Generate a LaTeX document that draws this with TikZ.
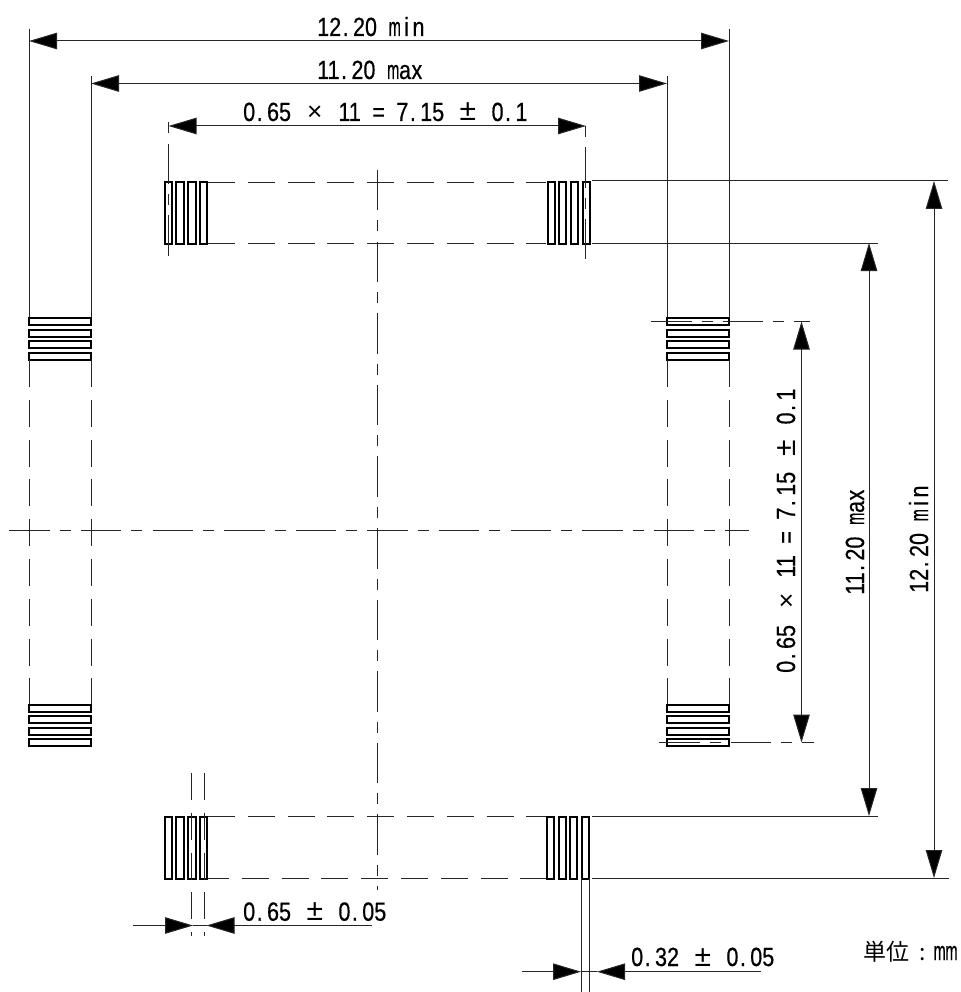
\documentclass[tikz,border=0pt]{standalone}
\usepackage{fontspec}
\usepackage{graphicx}
\usetikzlibrary{arrows.meta}
\newfontfamily\dimf[FakeStretch=0.82,FakeBold=0.5]{Liberation Sans}
\newfontfamily\symf{Liberation Sans}
\newfontfamily\cjkf{Noto Sans CJK JP}
\newcommand{\cellbox}[1]{\makebox[11.85pt]{#1}}
\newcommand{\dt}{\makebox[11.85pt][l]{\kern1.5pt.}}
\newcommand{\mch}{\makebox[11.85pt]{\scalebox{.68}[1]{m}}}
\newcommand{\wpm}{\makebox[23.7pt]{\fontsize{30}{30}\symf ±}}
\newcommand{\wtm}{\makebox[23.7pt]{\symf ×}}
\newcommand{\setgap}{\spaceskip=11.85pt\relax}
\tikzset{
  x=1pt,y=-1pt,
  thinl/.style={line width=1pt,black!85},
  pad/.style={line width=2pt,black,line join=miter},
  hidden/.style={thinl,dash pattern=on 27pt off 12.8pt},
  chain/.style={thinl,dash pattern=on 40.5pt off 10pt on 11pt off 10.1pt},
  chainb/.style={thinl,dash pattern=on 11pt off 10.1pt on 40.5pt off 10pt},
  dimarrow/.style={thinl,{Triangle[length=28pt,width=16.5pt,fill=black]}-{Triangle[length=28pt,width=16.5pt,fill=black]}},
  tipend/.style={thinl,-{Triangle[length=28pt,width=16.5pt,fill=black]}},
  dimtext/.style={inner sep=0pt,anchor=base west,font=\fontsize{26.3}{26.3}\dimf,text=black,execute at begin node={\setgap}},
  unittext/.style={inner sep=0pt,anchor=base west,font=\fontsize{23}{23}\cjkf,text=black}
}
\begin{document}
\begin{tikzpicture}
\useasboundingbox (0,0) rectangle (960,992);
\fill[white] (0,0) rectangle (960,992);

% --- pads: top and bottom rows (vertical bars)
\foreach \a/\b in {164/173,175.7/184.5,187.5/196.3,199/207.7,547/555.3,558.3/567,570/578.7,581.8/590.5}
  \draw[pad] (\a+0.7,182.5) rectangle (\b-0.7,244);
\foreach \a/\b in {164.5/173,175.7/184.5,187.7/196.5,199/208,546.5/555,558/567,569.5/578,581/590}
  \draw[pad] (\a+0.7,816.5) rectangle (\b-0.7,878.5);
% --- pads: left and right columns (horizontal bars)
\foreach \a/\b in {317/325.5,329/337.5,340.5/349,352/360.5,704/712.5,715.5/724,727/735.5,738.7/747}{
  \draw[pad] (29,\a+0.7) rectangle (91,\b-0.7);
  \draw[pad] (667,\a+0.7) rectangle (729,\b-0.7);
}

% --- hidden (dashed) lines between pads
\foreach \y/\s in {182.3/208,243.8/208,816.7/208}
  \draw[hidden] (\s,\y) -- (546,\y);
\draw[hidden,dash phase=6pt] (208,878) -- (546,878);
\foreach \x in {29,91,667,729}
  \draw[hidden] (\x,360) -- (\x,704);

% --- centre lines
\draw[chain] (9.3,530) -- (749,530);
\draw[chain] (377.5,170) -- (377.5,890);

% --- chain extension lines
\draw[chain] (651,321.5) -- (810,321.5);
\draw[chain] (659,742.5) -- (814,742.5);
\draw[chainb] (168.5,122.5) -- (168.5,256);
\draw[chainb] (585.8,126) -- (585.8,259);

% --- solid extension lines
\draw[thinl] (29,29) -- (29,317);
\draw[thinl] (91,76) -- (91,317);
\draw[thinl] (667,76) -- (667,317);
\draw[thinl] (729,29) -- (729,317);
\draw[thinl] (592,181) -- (948,181);
\draw[thinl] (592,243) -- (878,243);
\draw[thinl] (592,816) -- (878,816);
\draw[thinl] (592,878) -- (948.5,878);

% --- extension lines for 0.65 +- 0.05
\draw[hidden] (191.3,773) -- (191.3,936);
\draw[hidden] (204,773) -- (204,936);
% --- extension lines for 0.32 +- 0.05
\draw[thinl] (581,878) -- (581,992);
\draw[thinl] (589.7,878) -- (589.7,992);

% --- dimension arrows
\draw[dimarrow] (29,41) -- (729,41);
\draw[dimarrow] (91,83.5) -- (667,83.5);
\draw[dimarrow] (168.5,126) -- (586,126);
\draw[dimarrow] (801.5,321.5) -- (801.5,742.5);
\draw[dimarrow] (869,243) -- (869,816);
\draw[dimarrow] (934,181) -- (934,878);

\draw[tipend] (133,925.5) -- (193,925.5);
\draw[tipend] (372,925.5) -- (206.5,925.5);
\draw[thinl] (193,925.5) -- (206.5,925.5);
\draw[tipend] (522,971.7) -- (581,971.7);
\draw[tipend] (761,971.7) -- (597,971.7);
\draw[thinl] (581,971.7) -- (597,971.7);

% --- labels
\node[dimtext] (t1) at (317,36) {12\dt 20 \mch\cellbox{i}\cellbox{n}};
\node[dimtext] (t2) at (317,79) {11\dt 20 \mch\cellbox{a}\cellbox{x}};
\node[dimtext] (t3) at (243,121) {0\dt 65 \wtm{} 11 \cellbox{=} 7\dt 15 \wpm{} 0\dt 1};
\node[dimtext,rotate=90] (t4) at (795,673) {0\dt 65 \wtm{} 11 \cellbox{=} 7\dt 15 \wpm{} 0\dt 1};
\node[dimtext,rotate=90] (t5) at (864,595) {11\dt 20 \mch\cellbox{a}\cellbox{x}};
\node[dimtext,rotate=90] (t6) at (928,593) {12\dt 20 \mch\cellbox{i}\cellbox{n}};
\node[dimtext] (t7) at (243,920.7) {0\dt 65 \wpm{} 0\dt 05};
\node[dimtext] (t8) at (631,966) {0\dt 32 \wpm{} 0\dt 05};
\node[unittext] (t9) at (863,960) {単位};
\node[unittext] (t10) at (919,960) {:};
\node[dimtext] (t11) at (933.5,960) {\mch\mch};
\end{tikzpicture}
\end{document}
